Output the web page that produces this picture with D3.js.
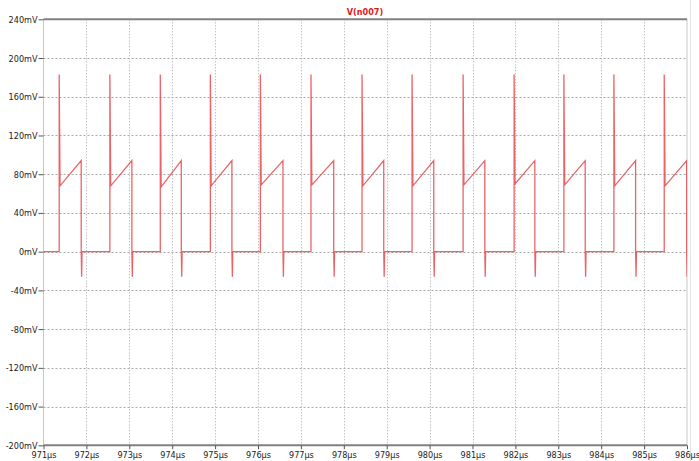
<!DOCTYPE html>
<html><head><meta charset="utf-8">
<script src="https://cdn.jsdelivr.net/npm/d3@7"></script>
<style>
html,body{margin:0;padding:0;background:#fff;}
svg{display:block;}
text{font-family:'Liberation Sans Narrow','DejaVu Sans Condensed','Arial Narrow',sans-serif;}
</style></head>
<body>
<svg id="chart" width="699" height="461"></svg>
<script>
// ---- data ----
const traceName = "V(n007)";
const yTicks = [240, 200, 160, 120, 80, 40, 0, -40, -80, -120, -160, -200]; // mV
const xTicks = [971, 972, 973, 974, 975, 976, 977, 978, 979, 980, 981, 982, 983, 984, 985, 986]; // µs
// switching edges of each period (µs)
const riseTimes = [971.366, 972.547, 973.722, 974.889, 976.055, 977.235, 978.425, 979.591, 980.781, 981.970, 983.130, 984.296, 985.469];
const fallTimes = [971.879, 973.060, 974.212, 975.392, 976.582, 977.765, 978.931, 980.097, 981.287, 982.453, 983.627, 984.802, 985.992];
// levels in each period (mV)
const spikePeak  = [183, 183, 183, 183, 183, 183, 183, 183, 183, 183, 183, 183, 183];
const rampStart  = [68, 68, 67, 68, 69, 69, 68, 68, 69, 70, 69, 68, 68];
const rampEnd    = [94, 94, 94, 94, 94, 94, 94, 94, 94, 94, 94, 94, 94];
const undershoot = [-26, -26, -26, -26, -26, -26, -26, -26, -26, -26, -26, -26, -26];

// ---- layout ----
const svg = d3.select("#chart");
const x = d3.scaleLinear().domain([971, 986]).range([43.5, 687]);
const y = d3.scaleLinear().domain([-200, 240]).range([445.3, 19.3]);

// gridlines
const grid = svg.append("g");
grid.selectAll("line.h").data(yTicks.filter(d => d !== 240 && d !== -200)).enter().append("line")
  .attr("x1", x(971)).attr("x2", x(986))
  .attr("y1", d => Math.round(y(d)) + 0.5).attr("y2", d => Math.round(y(d)) + 0.5)
  .attr("stroke", "#a8a8a8").attr("stroke-width", 1).attr("stroke-dasharray", "2,2");
grid.selectAll("line.v").data(xTicks.filter(d => d !== 971 && d !== 986)).enter().append("line")
  .attr("x1", d => Math.round(x(d)) + 0.5).attr("x2", d => Math.round(x(d)) + 0.5)
  .attr("y1", y(240)).attr("y2", y(-200))
  .attr("stroke", "#a8a8a8").attr("stroke-width", 1).attr("stroke-dasharray", "1,2");

// frame
svg.append("line").attr("x1", x(971)).attr("x2", x(971)).attr("y1", y(240)).attr("y2", y(-200))
  .attr("stroke", "#c8c8c8").attr("stroke-width", 1);
svg.append("line").attr("x1", x(986)).attr("x2", x(986)).attr("y1", y(240)).attr("y2", y(-200))
  .attr("stroke", "#c8c8c8").attr("stroke-width", 1);
svg.append("line").attr("x1", 690.5).attr("x2", 690.5).attr("y1", 0).attr("y2", 461)
  .attr("stroke", "#e4e4e4").attr("stroke-width", 1);
svg.append("line").attr("x1", x(971)).attr("x2", x(986)).attr("y1", y(240)).attr("y2", y(240))
  .attr("stroke", "#808080").attr("stroke-width", 2);
svg.append("line").attr("x1", x(971)).attr("x2", x(986)).attr("y1", y(-200)).attr("y2", y(-200))
  .attr("stroke", "#808080").attr("stroke-width", 2);

// y axis
const yAxis = d3.axisLeft(y).tickValues(yTicks).tickSize(5).tickPadding(1)
  .tickFormat(d => d + "mV");
const gy = svg.append("g").attr("transform", `translate(${x(971)},0)`).call(yAxis);
gy.select(".domain").remove();
gy.selectAll(".tick line").attr("stroke", "#555");
gy.selectAll(".tick text").attr("fill", "#222").style("font-size", "9px").attr("dy", "0.34em");

// x axis
const xAxis = d3.axisBottom(x).tickValues(xTicks).tickSize(4).tickPadding(2)
  .tickFormat(d => d + "µs");
const gx = svg.append("g").attr("transform", `translate(0,${y(-200)})`).call(xAxis);
gx.select(".domain").remove();
gx.selectAll(".tick line").attr("stroke", "#555");
gx.selectAll(".tick text").attr("fill", "#222").style("font-size", "9px");

// title
svg.append("text").attr("x", 365).attr("y", 15).attr("text-anchor", "middle")
  .attr("fill", "#e01818").style("font-size", "9px").style("font-weight", "bold").text(traceName);

// waveform
const pts = [[971, 0]];
riseTimes.forEach((r, i) => {
  const f = fallTimes[i];
  pts.push([r, 0], [r, spikePeak[i]], [r + 0.02, rampStart[i]], [f, rampEnd[i]],
           [f, 0], [f + 0.01, undershoot[i]], [f + 0.02, 0]);
});
pts.push([986, 0]);
const clipId = "plotclip";
svg.append("clipPath").attr("id", clipId).append("rect")
  .attr("x", x(971)).attr("y", y(240)).attr("width", x(986) - x(971)).attr("height", y(-200) - y(240));
svg.append("path").datum(pts)
  .attr("clip-path", `url(#${clipId})`)
  .attr("d", d3.line().x(d => x(d[0])).y(d => y(d[1])))
  .attr("fill", "none").attr("stroke", "#e8484c").attr("stroke-width", 1.3)
  .attr("stroke-linejoin", "miter").attr("stroke-opacity", 0.85);
</script>
</body></html>
